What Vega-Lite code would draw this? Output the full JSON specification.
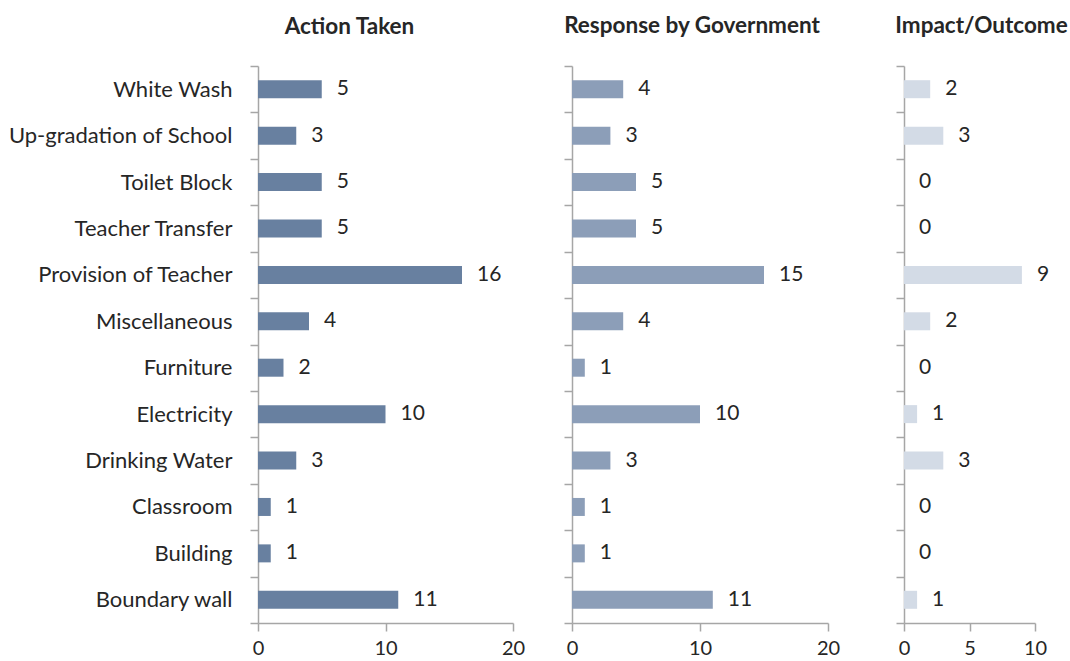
{
  "$schema": "https://vega.github.io/schema/vega-lite/v6.json",
  "padding": {"left": 8, "top": 14, "right": 5, "bottom": 0},
  "background": "white",
  "spacing": 18,
  "data": {"values": [
    {"category": "White Wash", "panel": "Action Taken", "value": 5},
    {"category": "Up-gradation of School", "panel": "Action Taken", "value": 3},
    {"category": "Toilet Block", "panel": "Action Taken", "value": 5},
    {"category": "Teacher Transfer", "panel": "Action Taken", "value": 5},
    {"category": "Provision of Teacher", "panel": "Action Taken", "value": 16},
    {"category": "Miscellaneous", "panel": "Action Taken", "value": 4},
    {"category": "Furniture", "panel": "Action Taken", "value": 2},
    {"category": "Electricity", "panel": "Action Taken", "value": 10},
    {"category": "Drinking Water", "panel": "Action Taken", "value": 3},
    {"category": "Classroom", "panel": "Action Taken", "value": 1},
    {"category": "Building", "panel": "Action Taken", "value": 1},
    {"category": "Boundary wall", "panel": "Action Taken", "value": 11},
    {"category": "White Wash", "panel": "Response by Government", "value": 4},
    {"category": "Up-gradation of School", "panel": "Response by Government", "value": 3},
    {"category": "Toilet Block", "panel": "Response by Government", "value": 5},
    {"category": "Teacher Transfer", "panel": "Response by Government", "value": 5},
    {"category": "Provision of Teacher", "panel": "Response by Government", "value": 15},
    {"category": "Miscellaneous", "panel": "Response by Government", "value": 4},
    {"category": "Furniture", "panel": "Response by Government", "value": 1},
    {"category": "Electricity", "panel": "Response by Government", "value": 10},
    {"category": "Drinking Water", "panel": "Response by Government", "value": 3},
    {"category": "Classroom", "panel": "Response by Government", "value": 1},
    {"category": "Building", "panel": "Response by Government", "value": 1},
    {"category": "Boundary wall", "panel": "Response by Government", "value": 11},
    {"category": "White Wash", "panel": "Impact/Outcome", "value": 2},
    {"category": "Up-gradation of School", "panel": "Impact/Outcome", "value": 3},
    {"category": "Toilet Block", "panel": "Impact/Outcome", "value": 0},
    {"category": "Teacher Transfer", "panel": "Impact/Outcome", "value": 0},
    {"category": "Provision of Teacher", "panel": "Impact/Outcome", "value": 9},
    {"category": "Miscellaneous", "panel": "Impact/Outcome", "value": 2},
    {"category": "Furniture", "panel": "Impact/Outcome", "value": 0},
    {"category": "Electricity", "panel": "Impact/Outcome", "value": 1},
    {"category": "Drinking Water", "panel": "Impact/Outcome", "value": 3},
    {"category": "Classroom", "panel": "Impact/Outcome", "value": 0},
    {"category": "Building", "panel": "Impact/Outcome", "value": 0},
    {"category": "Boundary wall", "panel": "Impact/Outcome", "value": 1}
  ]},
  "config": {
    "view": {"stroke": null},
    "font": "Lato",
    "axis": {
      "domainColor": "#A6A6A6", "domainWidth": 1.5, "tickColor": "#A6A6A6", "tickWidth": 1.5,
      "tickSize": 8, "labelFontSize": 20, "labelColor": "#262626", "grid": false, "title": null, "labelFont": "Lato"
    },
    "title": {"fontSize": 22.5, "fontWeight": "bold", "font": "Lato", "color": "#262626", "anchor": "middle", "frame": "group"}
  },
  "hconcat": [
    {
      "width": 255, "height": 557,
      "transform": [{"filter": "datum.panel === 'Action Taken'"}],
      "title": {"text": "Action Taken", "dx": -36, "offset": 17},
      "encoding": {
        "y": {"field": "category", "type": "nominal",
          "sort": ["White Wash", "Up-gradation of School", "Toilet Block", "Teacher Transfer", "Provision of Teacher", "Miscellaneous", "Furniture", "Electricity", "Drinking Water", "Classroom", "Building", "Boundary wall"],
          "scale": {"paddingInner": 0, "paddingOuter": 0},
          "axis": {"tickBand": "extent", "labelLimit": 300, "labelPadding": 18, "labelFontSize": 22}},
        "x": {"field": "value", "type": "quantitative", "scale": {"domain": [0, 20]},
          "axis": {"values": [0, 10, 20], "labelFlush": false, "labelPadding": 7}}
      },
      "layer": [
        {"mark": {"type": "bar", "color": "#6880A0", "size": 18}},
        {"mark": {"type": "text", "align": "left", "dx": 15, "fontSize": 21, "color": "#262626"}, "encoding": {"text": {"field": "value"}}}
      ]
    },
    {
      "width": 256, "height": 557,
      "transform": [{"filter": "datum.panel === 'Response by Government'"}],
      "title": {"text": "Response by Government", "dx": -8, "offset": 28},
      "encoding": {
        "y": {"field": "category", "type": "nominal",
          "sort": ["White Wash", "Up-gradation of School", "Toilet Block", "Teacher Transfer", "Provision of Teacher", "Miscellaneous", "Furniture", "Electricity", "Drinking Water", "Classroom", "Building", "Boundary wall"],
          "scale": {"paddingInner": 0, "paddingOuter": 0},
          "axis": {"tickBand": "extent", "labels": false, "minExtent": 29}},
        "x": {"field": "value", "type": "quantitative", "scale": {"domain": [0, 20]},
          "axis": {"values": [0, 10, 20], "labelFlush": false, "labelPadding": 7}}
      },
      "layer": [
        {"mark": {"type": "bar", "color": "#8C9EB8", "size": 18}},
        {"mark": {"type": "text", "align": "left", "dx": 15, "fontSize": 21, "color": "#262626"}, "encoding": {"text": {"field": "value"}}}
      ]
    },
    {
      "width": 131, "height": 557,
      "transform": [{"filter": "datum.panel === 'Impact/Outcome'"}],
      "title": {"text": "Impact/Outcome", "dx": 12, "offset": 28},
      "encoding": {
        "y": {"field": "category", "type": "nominal",
          "sort": ["White Wash", "Up-gradation of School", "Toilet Block", "Teacher Transfer", "Provision of Teacher", "Miscellaneous", "Furniture", "Electricity", "Drinking Water", "Classroom", "Building", "Boundary wall"],
          "scale": {"paddingInner": 0, "paddingOuter": 0},
          "axis": {"tickBand": "extent", "labels": false, "minExtent": 46}},
        "x": {"field": "value", "type": "quantitative", "scale": {"domain": [0, 10]},
          "axis": {"values": [0, 5, 10], "labelFlush": false, "labelPadding": 7}}
      },
      "layer": [
        {"mark": {"type": "bar", "color": "#D3DBE6", "size": 18}},
        {"mark": {"type": "text", "align": "left", "dx": 15, "fontSize": 21, "color": "#262626"}, "encoding": {"text": {"field": "value"}}}
      ]
    }
  ]
}
